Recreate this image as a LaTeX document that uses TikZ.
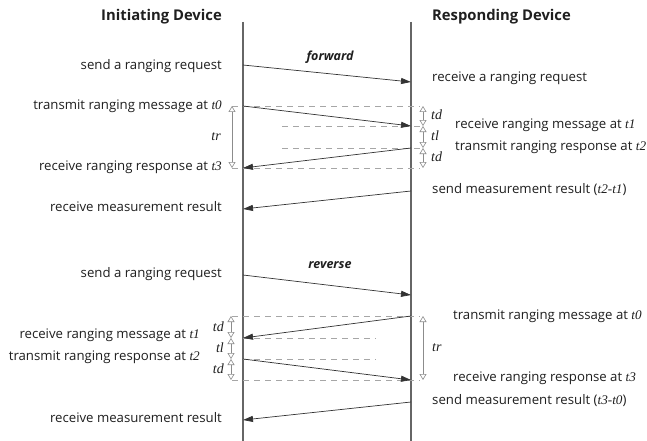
\documentclass[tikz,border=0pt]{standalone}
\usepackage{fontspec}
\setmainfont{Open Sans}
\newfontfamily\tfont{Liberation Serif}
\usetikzlibrary{arrows.meta}
\newcommand{\tv}[1]{{\tfont\itshape #1}}
\begin{document}
\begin{tikzpicture}[x=1pt,y=-1pt,
  lbl/.style={font=\fontsize{13.2}{14}\selectfont, inner sep=0pt, text=black!88},
  lblL/.style={lbl, anchor=east},
  lblR/.style={lbl, anchor=west},
  ttl/.style={font=\fontsize{14.8}{16}\selectfont\bfseries, inner sep=0pt, text=black!88},
  dir/.style={font=\fontsize{12.5}{14}\selectfont\bfseries\itshape, inner sep=0pt, text=black!88},
  tlab/.style={font=\fontsize{14}{15}\selectfont\tfont\itshape, inner sep=0pt, text=black!88},
  msg/.style={draw=black!80, line width=0.7pt, -{Triangle[length=10pt,width=6pt]}},
  guide/.style={draw=black!35, dash pattern=on 6pt off 5pt, line width=0.7pt},
  span/.style={draw=black!45, line width=0.6pt, {Triangle[open,length=6pt,width=7pt,fill=white]}-{Triangle[open,length=6pt,width=7pt,fill=white]}},
  life/.style={draw=black!60, line width=1.3pt}]
\useasboundingbox (0,0) rectangle (647,441);
\fill[white] (0,0) rectangle (647,441);
% lifelines
\coordinate (Ltop) at (243,22); \coordinate (Lbot) at (243,441);
\coordinate (Rtop) at (411,22); \coordinate (Rbot) at (411,441);
\draw[life] (Ltop) -- (Lbot);
\draw[life] (Rtop) -- (Rbot);
% titles
\node[ttl, anchor=east] (tI) at (222,17) {Initiating Device};
\node[ttl, anchor=west] (tR) at (432,17) {Responding Device};

% ---------- forward ----------
\node[dir] (fwd) at (330,57) {forward};
\coordinate (f1a) at (243,65); \coordinate (f1b) at (411,82);
\draw[msg] (f1a) -- (f1b);
\node[lblL] (fl1) at (222,66) {send a ranging request};
\node[lblR] (fr1) at (432,78) {receive a ranging request};

\coordinate (fdA1) at (232,106); \coordinate (fdA2) at (420,106);
\coordinate (fdB1) at (282,126); \coordinate (fdB2) at (423,126);
\coordinate (fdC1) at (282,148); \coordinate (fdC2) at (423,148);
\coordinate (fdD1) at (232,168); \coordinate (fdD2) at (420,168);
\draw[guide] (fdA1) -- (fdA2);
\draw[guide] (fdB1) -- (fdB2);
\draw[guide] (fdC1) -- (fdC2);
\draw[guide] (fdD1) -- (fdD2);

\coordinate (f2a) at (243,106); \coordinate (f2b) at (411,126);
\coordinate (f3a) at (411,148); \coordinate (f3b) at (243,168);
\draw[msg] (f2a) -- (f2b);
\draw[msg] (f3a) -- (f3b);

\coordinate (ftrT) at (232,106); \coordinate (ftrB) at (232,168);
\draw[span] (ftrT) -- (ftrB);
\node[tlab, anchor=east] (ftr) at (221,137) {tr};
\coordinate (fx0) at (423,106); \coordinate (fx1) at (423,126);
\coordinate (fx2) at (423,148); \coordinate (fx3) at (423,168);
\draw[span] (fx0) -- (fx1);
\draw[span] (fx1) -- (fx2);
\draw[span] (fx2) -- (fx3);
\node[tlab, anchor=west] (ftd1) at (431,115) {td};
\node[tlab, anchor=west] (ftl) at (431,136) {tl};
\node[tlab, anchor=west] (ftd2) at (431,157) {td};

\node[lblL] (fl2) at (222,106) {transmit ranging message at \tv{t0}};
\node[lblL] (fl3) at (222,167) {receive ranging response at \tv{t3}};
\node[lblR] (fr2) at (455,125) {receive ranging message at \tv{t1}};
\node[lblR] (fr3) at (455,147) {transmit ranging response at \tv{t2}};

\coordinate (f4a) at (411,191); \coordinate (f4b) at (243,209);
\draw[msg] (f4a) -- (f4b);
\node[lblR] (fr4) at (432,190) {send measurement result (\tv{t2-t1})};
\node[lblL] (fl4) at (222,207) {receive measurement result};

% ---------- reverse ----------
\node[dir] (rev) at (330,265) {reverse};
\coordinate (r1a) at (243,275); \coordinate (r1b) at (411,295);
\draw[msg] (r1a) -- (r1b);
\node[lblL] (rl1) at (222,274) {send a ranging request};

\coordinate (rdA1) at (232,316); \coordinate (rdA2) at (420,316);
\coordinate (rdB1) at (243,338); \coordinate (rdB2) at (376,338);
\coordinate (rdC1) at (243,359); \coordinate (rdC2) at (376,359);
\coordinate (rdD1) at (232,380); \coordinate (rdD2) at (420,380);
\draw[guide] (rdA1) -- (rdA2);
\draw[guide] (rdB1) -- (rdB2);
\draw[guide] (rdC1) -- (rdC2);
\draw[guide] (rdD1) -- (rdD2);

\coordinate (r2a) at (411,316); \coordinate (r2b) at (243,338);
\coordinate (r3a) at (243,359); \coordinate (r3b) at (411,380);
\draw[msg] (r2a) -- (r2b);
\draw[msg] (r3a) -- (r3b);

\coordinate (rtrT) at (423,316); \coordinate (rtrB) at (423,380);
\draw[span] (rtrT) -- (rtrB);
\node[tlab, anchor=west] (rtr) at (432,348) {tr};
\coordinate (rx0) at (231,316); \coordinate (rx1) at (231,338);
\coordinate (rx2) at (231,359); \coordinate (rx3) at (231,380);
\draw[span] (rx0) -- (rx1);
\draw[span] (rx1) -- (rx2);
\draw[span] (rx2) -- (rx3);
\node[tlab, anchor=east] (rtd1) at (224,327) {td};
\node[tlab, anchor=east] (rtl) at (224,348) {tl};
\node[tlab, anchor=east] (rtd2) at (224,369) {td};

\node[lblR] (rr2) at (453,316) {transmit ranging message at \tv{t0}};
\node[lblL] (rl2) at (200,335) {receive ranging message at \tv{t1}};
\node[lblL] (rl3) at (200,357) {transmit ranging response at \tv{t2}};
\node[lblR] (rr3) at (453,378) {receive ranging response at \tv{t3}};

\coordinate (r4a) at (411,402); \coordinate (r4b) at (243,420);
\draw[msg] (r4a) -- (r4b);
\node[lblR] (rr4) at (432,401) {send measurement result (\tv{t3-t0})};
\node[lblL] (rl4) at (222,418) {receive measurement result};
\end{tikzpicture}
\end{document}
